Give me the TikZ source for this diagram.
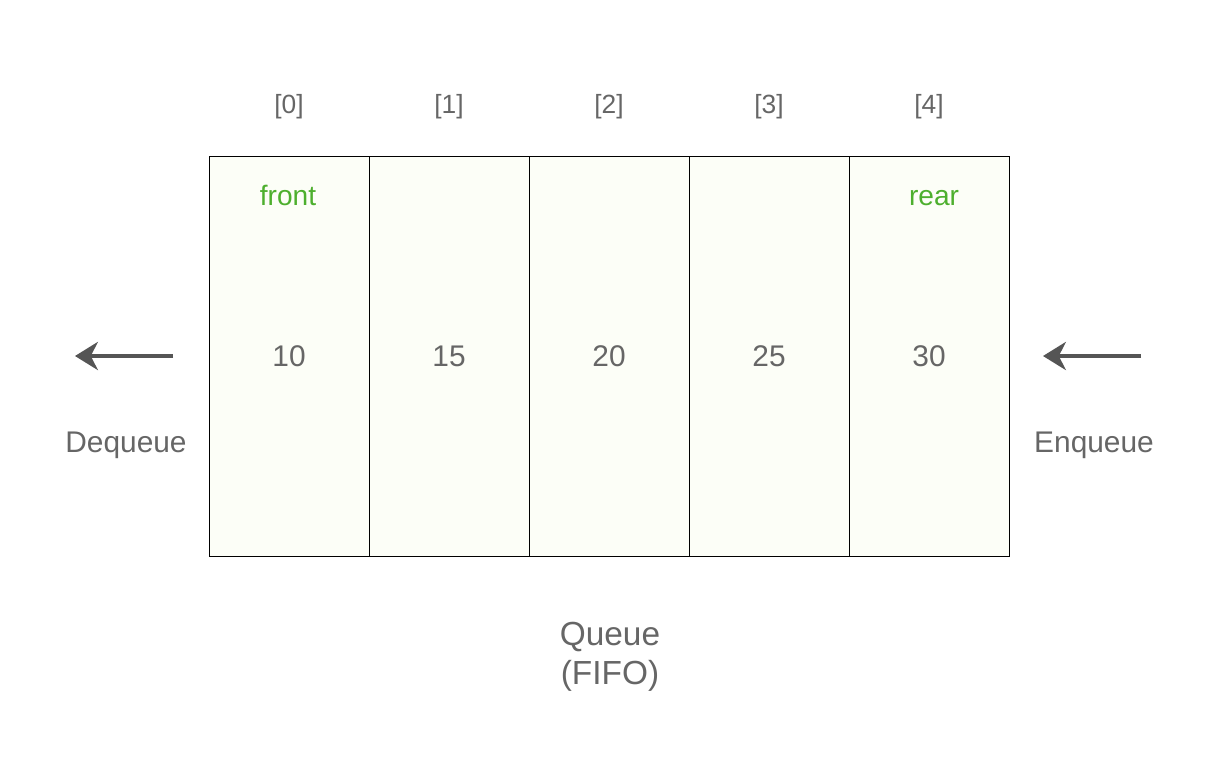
\documentclass[tikz,border=0pt]{standalone}
\usepackage{fontspec}
\setmainfont{Liberation Sans}
\usetikzlibrary{arrows.meta}

\definecolor{txtgray}{HTML}{666666}
\definecolor{arrgray}{HTML}{555555}
\definecolor{cellfill}{HTML}{FCFEF7}
\definecolor{markgreen}{HTML}{4DAF2E}

\tikzset{
  cell/.style={draw=black, line width=0.5pt, fill=cellfill, minimum width=3.2cm, minimum height=8cm, inner sep=0pt, text=txtgray, font=\fontsize{17}{20}\selectfont},
  idx/.style={text=txtgray, font=\fontsize{15}{18}\selectfont},
  ptr/.style={text=markgreen, font=\fontsize{16}{19}\selectfont, anchor=base},
  lbl/.style={text=txtgray, font=\fontsize{17}{20}\selectfont},
  flow/.style={draw=arrgray, line width=1.8pt, -{Stealth[length=13pt, width=16pt, inset=4pt]}}
}

\begin{document}
\begin{tikzpicture}[x=0.02cm, y=-0.02cm]
\useasboundingbox (0,0) rectangle (1226,782);

\node[cell] (c0) at (289,356) {10};
\node[cell] (c1) at (449,356) {15};
\node[cell] (c2) at (609,356) {20};
\node[cell] (c3) at (769,356) {25};
\node[cell] (c4) at (929,356) {30};

\node[idx] (i0) at (289,107) {[0]};
\node[idx] (i1) at (449,107) {[1]};
\node[idx] (i2) at (609,107) {[2]};
\node[idx] (i3) at (769,107) {[3]};
\node[idx] (i4) at (929,107) {[4]};

\node[ptr] (front) at (288,205) {front};
\node[ptr] (rear) at (934,205) {rear};

\coordinate (deqa) at (173,356);
\coordinate (deqb) at (75,356);
\draw[flow] (deqa) -- (deqb);
\node[lbl] (deq) at (126,445) {Dequeue};

\coordinate (enqa) at (1141,356);
\coordinate (enqb) at (1043,356);
\draw[flow] (enqa) -- (enqb);
\node[lbl] (enq) at (1094,445) {Enqueue};

\node[lbl, font=\fontsize{19}{22}\selectfont, align=center] (title) at (610,657) {Queue\\(FIFO)};
\end{tikzpicture}
\end{document}
